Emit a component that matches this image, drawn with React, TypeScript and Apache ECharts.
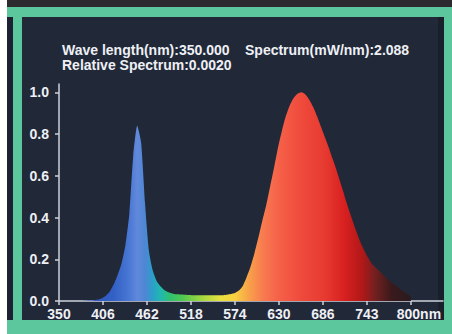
import { useEffect, useRef } from "react";
import * as echarts from "echarts";

const wavelengths = [
  350, 360, 370, 380, 390, 395, 400, 405, 410, 415, 420, 425, 430, 435, 440, 445, 450, 455, 460, 465,
  470, 475, 480, 485, 490, 495, 500, 510, 520, 530, 540, 550, 560, 565, 570, 575, 580, 585, 590, 595,
  600, 605, 610, 615, 620, 625, 630, 635, 640, 645, 650, 655, 660, 665, 670, 675, 680, 685, 690, 695,
  700, 705, 710, 715, 720, 725, 730, 735, 740, 745, 750, 755, 760, 765, 770, 775, 780, 785, 790, 795, 800,
];
const relSpectrum = [
  0, 0, 0, 0, 0.002, 0.004, 0.007, 0.013, 0.025, 0.045, 0.08, 0.125, 0.18, 0.27, 0.42, 0.7, 0.84, 0.76, 0.47, 0.24,
  0.145, 0.095, 0.07, 0.052, 0.042, 0.036, 0.032, 0.03, 0.028, 0.028, 0.028, 0.028, 0.028, 0.03, 0.033, 0.038, 0.05, 0.072, 0.115, 0.165,
  0.23, 0.305, 0.385, 0.46, 0.55, 0.64, 0.735, 0.815, 0.885, 0.937, 0.973, 0.993, 1.0, 0.99, 0.965, 0.93, 0.885, 0.835, 0.785, 0.735,
  0.68, 0.625, 0.565, 0.505, 0.445, 0.39, 0.335, 0.285, 0.245, 0.21, 0.18, 0.16, 0.143, 0.124, 0.105, 0.09, 0.075, 0.06, 0.047, 0.035, 0.02,
];
const xTickValues = [350, 406.25, 462.5, 518.75, 575, 631.25, 687.5, 743.75, 800];
const xTickLabels = ["350", "406", "462", "518", "574", "630", "686", "743", "800nm"];
const yTickValues = [0, 0.2, 0.4, 0.6, 0.8, 1.0];
const headerWave = "Wave length(nm):350.000";
const headerSpectrum = "Spectrum(mW/nm):2.088";
const headerRelative = "Relative Spectrum:0.0020";

// spectral colour stops: [wavelength nm, colour]
const spectrumStops: [number, string][] = [
  [350, "#2a4cb0"],
  [420, "#3260c6"],
  [440, "#4a78d4"],
  [450, "#6189dc"],
  [460, "#4e86d4"],
  [470, "#2aa0c8"],
  [480, "#20b8b0"],
  [492, "#30c070"],
  [508, "#50c850"],
  [532, "#a0d840"],
  [556, "#e8e040"],
  [575, "#f8d040"],
  [590, "#f8a848"],
  [610, "#f87c50"],
  [632, "#f56048"],
  [660, "#ef4a3c"],
  [690, "#e63a30"],
  [715, "#d82020"],
  [738, "#b01818"],
  [755, "#702020"],
  [775, "#3a1a1c"],
  [800, "#2a1a1e"],
];

export default function App() {
  const ref = useRef<HTMLDivElement>(null);
  useEffect(() => {
    if (!ref.current) return;
    const chart = echarts.init(ref.current, undefined, { renderer: "svg" });
    const x0 = wavelengths[0];
    const x1 = wavelengths[wavelengths.length - 1];
    const gradient = new echarts.graphic.LinearGradient(
      0, 0, 1, 0,
      spectrumStops.map(([w, c]) => ({ offset: (w - x0) / (x1 - x0), color: c }))
    );
    const font = "Liberation Sans";
    const frameZ = -1;
    chart.setOption({
      animation: false,
      backgroundColor: "#212838",
      grid: { left: 59, right: 9, top: 84, bottom: 33 },
      graphic: [
        { type: "rect", z: frameZ, shape: { x: 0, y: 0, width: 452, height: 7 }, style: { fill: "#2c2a2e" } },
        { type: "rect", z: frameZ, shape: { x: 7, y: 7, width: 7, height: 320 }, style: { fill: "#1d2232" } },
        { type: "rect", z: frameZ, shape: { x: 7, y: 7, width: 445, height: 10 }, style: { fill: "#5cc79c" } },
        { type: "rect", z: frameZ, shape: { x: 13, y: 7, width: 9, height: 320 }, style: { fill: "#5cc79c" } },
        { type: "rect", z: frameZ, shape: { x: 438, y: 17, width: 6, height: 303 }, style: { fill: "#1a1f2c" } },
        { type: "rect", z: frameZ, shape: { x: 444, y: 7, width: 8, height: 327 }, style: { fill: "#5cc79c" } },
        { type: "rect", z: frameZ, shape: { x: 7, y: 320, width: 445, height: 14 }, style: { fill: "#5cc79c" } },
        { type: "rect", z: frameZ, shape: { x: 0, y: 0, width: 7, height: 334 }, style: { fill: "#ffffff" } },
        {
          type: "text", x: 62, y: 43,
          style: { text: headerWave, fill: "#eef0f5", font: `bold 14px "${font}"` },
        },
        {
          type: "text", x: 245, y: 43,
          style: { text: headerSpectrum, fill: "#eef0f5", font: `bold 14px "${font}"` },
        },
        {
          type: "text", x: 62, y: 58,
          style: { text: headerRelative, fill: "#eef0f5", font: `bold 14px "${font}"` },
        },
      ],
      xAxis: {
        type: "value",
        min: 350,
        max: 841,
        splitLine: { show: false },
        axisLine: { show: true, lineStyle: { color: "#cdd1da", width: 1.5 } },
        axisTick: {
          show: true,
          length: 4,
          customValues: xTickValues,
          lineStyle: { color: "#cdd1da", width: 1.5 },
        },
        axisLabel: {
          customValues: xTickValues,
          margin: 6,
          color: "#eef0f5",
          fontFamily: font,
          fontWeight: "bold",
          fontSize: 14,
          formatter: (v: number) => {
            const i = xTickValues.findIndex((t) => Math.abs(t - v) < 0.01);
            if (i < 0) return "";
            if (i === xTickLabels.length - 1) return "{p|}" + xTickLabels[i];
            return xTickLabels[i];
          },
          rich: { p: { width: 16 } },
        },
      },
      yAxis: {
        type: "value",
        min: 0,
        max: 1.04,
        splitLine: { show: false },
        axisLine: { show: true, lineStyle: { color: "#cdd1da", width: 1.5 } },
        axisTick: {
          show: true,
          length: 4,
          customValues: yTickValues,
          lineStyle: { color: "#cdd1da", width: 1.5 },
        },
        axisLabel: {
          customValues: yTickValues,
          margin: 10,
          color: "#eef0f5",
          fontFamily: font,
          fontWeight: "bold",
          fontSize: 14,
          formatter: (v: number) => v.toFixed(1),
        },
      },
      series: [
        {
          type: "line",
          data: wavelengths.map((w, i) => [w, relSpectrum[i]]),
          smooth: 0.2,
          showSymbol: false,
          lineStyle: { width: 0, opacity: 0 },
          areaStyle: { color: gradient, opacity: 1 },
        },
      ],
    });
    return () => chart.dispose();
  }, []);
  return (
    <div
      ref={ref}
      style={{ position: "absolute", left: 0, top: 0, width: 452, height: 334 }}
    />
  );
}
